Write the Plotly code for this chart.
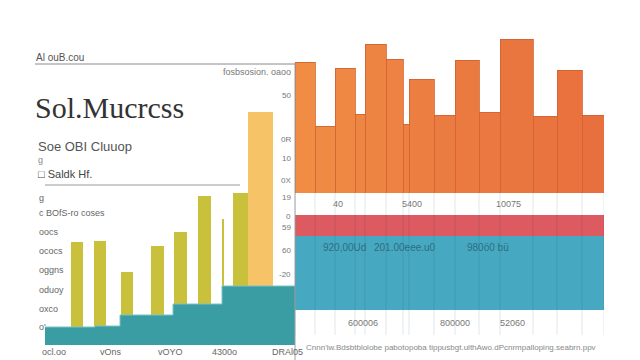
import plotly.graph_objects as go

W, H = 640, 360
def px(x): return x / W
def py(y): return 1 - y / H

# ---------------- data ----------------
# left panel: yellow bars (years, values)
yellow_x = [2003.2, 2005.5, 2008.2, 2011.25, 2013.55, 2015.95, 2017.75, 2019.55]
yellow_w = [1.2, 1.2, 1.2, 1.3, 1.3, 1.3, 0.2, 1.5]
yellow_v = [103, 104, 73, 99, 113, 149, 126, 152]
big_x = [2021.55]
big_w = [2.5]
big_v = [233]
# teal step area
step_x = [2000, 2005, 2007.5, 2012.8, 2017.7, 2025]
step_v = [18, 19, 30, 41, 59, 59]

# right panel: orange variable-width bars
orange_w = [2.0, 2.0, 2.0, 1.0, 2.1, 1.7, 0.6, 2.5, 2.1, 2.4, 2.1, 3.3, 2.4, 2.5, 2.2]
orange_v = [131, 67, 125, 79, 149, 134, 69, 114, 78, 133, 81, 154, 77, 123, 78]
# bands
band_labels = ["teal", "red"]
band_v = [74, 21]

left_xticks = ["ocl.oo", "vOns", "vOYO", "4300o", "DRAl05"]
left_yticks = ["g", "c BOfS-ro coses", "oocs", "ococs", "oggns", "oduoy", "oxco", "o'"]
right_yticks = ["50", "0R", "10", "0X", "19", "0", "59", "60", "-20"]

# ---------------- derived ----------------
edges = [0]
for w in orange_w:
    edges.append(edges[-1] + w)
orange_x = [(edges[i] + edges[i + 1]) / 2 for i in range(len(orange_w))]

def lerp(c1, c2, t):
    return "rgb(%d,%d,%d)" % tuple(round(a + (b - a) * t) for a, b in zip(c1, c2))
orange_cols = [lerp((240, 140, 68), (232, 112, 62), i / (len(orange_w) - 1)) for i in range(len(orange_w))]

fig = go.Figure()

# left chart
fig.add_trace(go.Bar(x=yellow_x, y=yellow_v, width=yellow_w, marker_color="#c9c13c",
                     marker_line_width=0, xaxis="x", yaxis="y", showlegend=False))
fig.add_trace(go.Bar(x=big_x, y=big_v, width=big_w, marker_color="#f6c466",
                     marker_line_width=0, xaxis="x", yaxis="y", showlegend=False))
fig.add_trace(go.Scatter(x=step_x, y=step_v, mode="lines", line=dict(shape="hv", color="#7cc3c3", width=1),
                         fill="tozeroy", fillcolor="#3a9da3", xaxis="x", yaxis="y", showlegend=False))

# right orange bars
fig.add_trace(go.Bar(x=orange_x, y=orange_v, width=orange_w, marker_color=orange_cols,
                     marker_line=dict(color="#d0622f", width=0.8), xaxis="x2", yaxis="y2", showlegend=False))

# bands (stacked)
fig.add_trace(go.Bar(x=[0], y=[band_v[0]], width=[1], marker_color="#47a8c1", marker_line_width=0,
                     xaxis="x3", yaxis="y3", showlegend=False))
fig.add_trace(go.Bar(x=[0], y=[band_v[1]], width=[1], marker_color="#dc5a60", marker_line_width=0,
                     xaxis="x3", yaxis="y3", showlegend=False))

hidden = dict(showgrid=False, zeroline=False, showticklabels=False, showline=False, ticks="")
fig.update_layout(
    width=W, height=H, margin=dict(l=0, r=0, t=0, b=0),
    paper_bgcolor="white", plot_bgcolor="rgba(0,0,0,0)",
    barmode="stack", bargap=0, hovermode=False,
    xaxis=dict(domain=[px(45), px(295)], range=[2000, 2025], **hidden),
    yaxis=dict(domain=[py(345), py(100)], range=[0, 245], **hidden),
    xaxis2=dict(domain=[px(295), px(604)], range=[0, edges[-1]], anchor="y2", **hidden),
    yaxis2=dict(domain=[py(193), py(30)], range=[0, 163], anchor="x2", **hidden),
    xaxis3=dict(domain=[px(295), px(604)], range=[-0.5, 0.5], anchor="y3", **hidden),
    yaxis3=dict(domain=[py(310), py(215)], range=[0, 95], anchor="x3", **hidden),
)

shapes = []
# vertical grid lines below orange bars
for e in edges:
    shapes.append(dict(type="line", xref="x2", yref="paper", x0=e, x1=e, y0=py(335), y1=py(193),
                       line=dict(color="rgba(20,70,90,0.13)", width=1), layer="above"))
# rules
shapes.append(dict(type="line", xref="paper", yref="paper", x0=px(35), x1=px(295), y0=py(64), y1=py(64),
                   line=dict(color="#8a8a8a", width=1)))
shapes.append(dict(type="line", xref="paper", yref="paper", x0=px(45), x1=px(240), y0=py(185), y1=py(185),
                   line=dict(color="#9a9a9a", width=1)))
shapes.append(dict(type="line", xref="paper", yref="paper", x0=px(295), x1=px(295), y0=py(360), y1=py(63),
                   line=dict(color="#a0a0a0", width=1)))
fig.update_layout(shapes=shapes)

ann = []
def t(x, y, s, size=9, color="#666", anchor="left", family="Liberation Sans", **kw):
    ann.append(dict(x=px(x), y=py(y), xref="paper", yref="paper", text=s, showarrow=False,
                    xanchor=anchor, yanchor="middle", font=dict(size=size, color=color, family=family), **kw))

t(34, 57, "Al ouB.cou", 10, "#555")
t(293, 72, "fosbsosion. oaoo", 9, "#777", anchor="right")
t(33, 107, "Sol.Mucrcss", 30, "#333333", family="Liberation Serif")
t(36, 146, "Soe OBI Cluuop", 13, "#555")
t(36, 160, "g", 9, "#888")
t(36, 174, "\u25a1 Saldk Hf.", 11, "#444")

left_y_pos = [198, 213, 232, 251, 270, 290, 309, 327]
for s, y in zip(left_yticks, left_y_pos):
    t(37, y, s, 9, "#666")
left_x_pos = [54, 111, 170, 224, 287]
for s, x in zip(left_xticks, left_x_pos):
    t(x, 352, s, 9, "#666", anchor="center")

right_y_pos = [96, 140, 158, 180, 197, 216, 227, 250, 274]
for s, y in zip(right_yticks, right_y_pos):
    t(293, y, s, 8, "#777", anchor="right")

for s, x in zip(["40", "5400", "10075"], [338, 412, 508]):
    t(x, 204, s, 9, "#777", anchor="center")
for s, x in zip(["920,00Ud", "201.00eee.u0", "980\u00f60 b\u00fc"], [344, 405, 488]):
    t(x, 247, s, 10, "#2b6f82", anchor="center")
for s, x in zip(["600006", "800000", "52060"], [363, 455, 512]):
    t(x, 323, s, 9, "#777", anchor="center")
t(304, 347, "Cnnn'iw.Bdsbtblolobe pabotopoba tippusbgt.ulthAwo.dPcnrmpalloping.seabrn.ppv", 8, "#888")

fig.update_layout(annotations=ann)
fig.write_html("out.html", config={"displayModeBar": False, "staticPlot": True})

with open("out.html", encoding="utf-8") as f:
    html = f.read()
html = html.replace("<body>", '<body style="margin:0;padding:0;overflow:hidden">', 1)
with open("out.html", "w", encoding="utf-8") as f:
    f.write(html)
